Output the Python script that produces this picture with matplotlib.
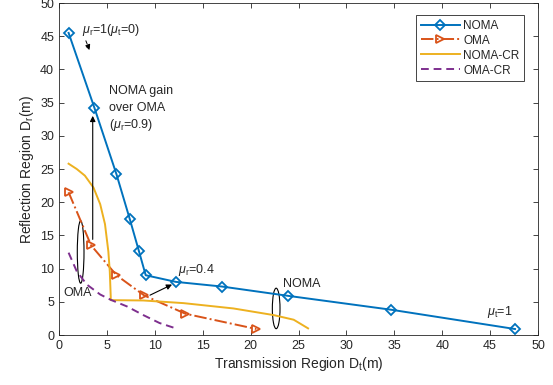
import matplotlib
matplotlib.use("Agg")
import matplotlib.pyplot as plt
from matplotlib.patches import Ellipse

plt.rcParams['font.family'] = ['Liberation Sans', 'DejaVu Sans']
plt.rcParams['mathtext.fontset'] = 'custom'
plt.rcParams['mathtext.rm'] = 'Liberation Sans'
plt.rcParams['mathtext.it'] = 'Liberation Sans:italic'

# NOMA boundary (diamond markers)
noma_dt = [1.0, 3.7, 6.0, 7.4, 8.35, 9.05, 12.2, 17.0, 23.9, 34.7, 47.6]
noma_dr = [45.5, 34.2, 24.2, 17.4, 12.6, 9.0, 8.0, 7.3, 5.9, 3.8, 0.9]

# OMA boundary (triangle markers)
oma_dt = [1.0, 3.35, 6.0, 8.9, 13.2, 20.6]
oma_dr = [21.5, 13.5, 9.0, 5.95, 3.2, 0.9]

# NOMA-CR curve
nomacr_dt = [1.0, 1.85, 2.7, 3.6, 4.3, 4.8, 5.15, 5.3, 5.4, 5.4, 8.8, 13.0, 18.2, 22.4, 24.5, 26.0]
nomacr_dr = [25.8, 25.0, 24.0, 22.2, 19.7, 16.7, 12.6, 9.6, 5.8, 5.25, 5.2, 4.8, 4.0, 3.0, 2.3, 1.0]

# OMA-CR curve
omacr_dt = [1.0, 1.85, 2.9, 4.3, 5.4, 7.1, 8.8, 10.5, 12.4]
omacr_dr = [12.4, 9.6, 7.6, 6.1, 5.3, 4.3, 3.0, 1.8, 0.9]

c_noma = '#0072BD'
c_oma = '#D95319'
c_nomacr = '#EDB120'
c_omacr = '#7E2F8E'
txt = '#262626'

fig = plt.figure(figsize=(5.53, 3.85), dpi=100)
ax = fig.add_axes([59 / 553, 50 / 385, 479 / 553, 332 / 385])

ax.plot(noma_dt, noma_dr, '-', color=c_noma, lw=1.4, marker='D', ms=5.5,
        mfc='none', mew=1.3, label='NOMA')
ax.plot(oma_dt, oma_dr, '-.', color=c_oma, lw=1.4, marker='>', ms=6,
        mfc='none', mew=1.3, label='OMA')
ax.plot(nomacr_dt, nomacr_dr, '-', color=c_nomacr, lw=1.4, label='NOMA-CR')
ax.plot(omacr_dt, omacr_dr, '--', color=c_omacr, lw=1.4, dashes=(4, 2.5), label='OMA-CR')

ax.set_xlim(0, 50)
ax.set_ylim(0, 50)
ax.set_xticks(range(0, 51, 5))
ax.set_yticks(range(0, 51, 5))
ax.tick_params(direction='in', top=True, right=True, labelsize=9,
               labelcolor=txt, color=txt, length=3.5, width=0.6)
for s in ax.spines.values():
    s.set_color(txt)
    s.set_linewidth(0.6)

ax.set_xlabel(r'Transmission Region D$_{\rm t}$(m)', fontsize=10, color=txt, labelpad=2)
ax.set_ylabel(r'Reflection Region D$_{\rm r}$(m)', fontsize=10, color=txt, labelpad=3)

# annotations
ax.text(2.4, 46.0, r'$\mu_{\rm r}$=1($\mu_{\rm t}$=0)', fontsize=9, color=txt,
        ha='left', va='center')
ax.annotate('', xy=(3.3, 42.5), xytext=(2.7, 44.7),
            arrowprops=dict(arrowstyle='-|>', color='black', lw=0.7,
                            linestyle='--', mutation_scale=8))

ax.text(5.2, 36.8, 'NOMA gain', fontsize=9, color=txt, ha='left', va='center')
ax.text(5.2, 34.2, 'over OMA', fontsize=9, color=txt, ha='left', va='center')
ax.text(5.2, 31.6, r'($\mu_{\rm r}$=0.9)', fontsize=9, color=txt, ha='left', va='center')
ax.annotate('', xy=(3.52, 33.0), xytext=(3.52, 14.4),
            arrowprops=dict(arrowstyle='-|>', color='black', lw=0.8,
                            mutation_scale=8, shrinkA=0, shrinkB=0))

ax.add_patch(Ellipse((2.26, 12.5), 0.7, 9.4, fill=False, edgecolor='black', lw=0.8))
ax.text(0.45, 6.3, 'OMA', fontsize=9, color=txt, ha='left', va='center')

ax.text(12.4, 9.8, r'$\mu_{\rm r}$=0.4', fontsize=9, color=txt, ha='left', va='center')
ax.annotate('', xy=(11.8, 7.6), xytext=(9.5, 6.0),
            arrowprops=dict(arrowstyle='-|>', color='black', lw=0.8,
                            mutation_scale=8, shrinkA=0, shrinkB=0))

ax.add_patch(Ellipse((22.67, 4.0), 0.8, 6.1, fill=False, edgecolor='black', lw=0.8))
ax.text(23.4, 7.7, 'NOMA', fontsize=9, color=txt, ha='left', va='center')

ax.text(44.7, 3.5, r'$\mu_{\rm t}$=1', fontsize=9, color=txt, ha='left', va='center')

leg = ax.legend(loc='upper right', bbox_to_anchor=(0.971, 0.964), borderaxespad=0,
                fontsize=8.5, handlelength=3.3, fancybox=False, framealpha=1,
                edgecolor=txt, borderpad=0.4, labelspacing=0.25, handletextpad=0.3)
leg.get_frame().set_linewidth(0.6)
for t in leg.get_texts():
    t.set_color(txt)

fig.savefig('out.png', dpi=100)
